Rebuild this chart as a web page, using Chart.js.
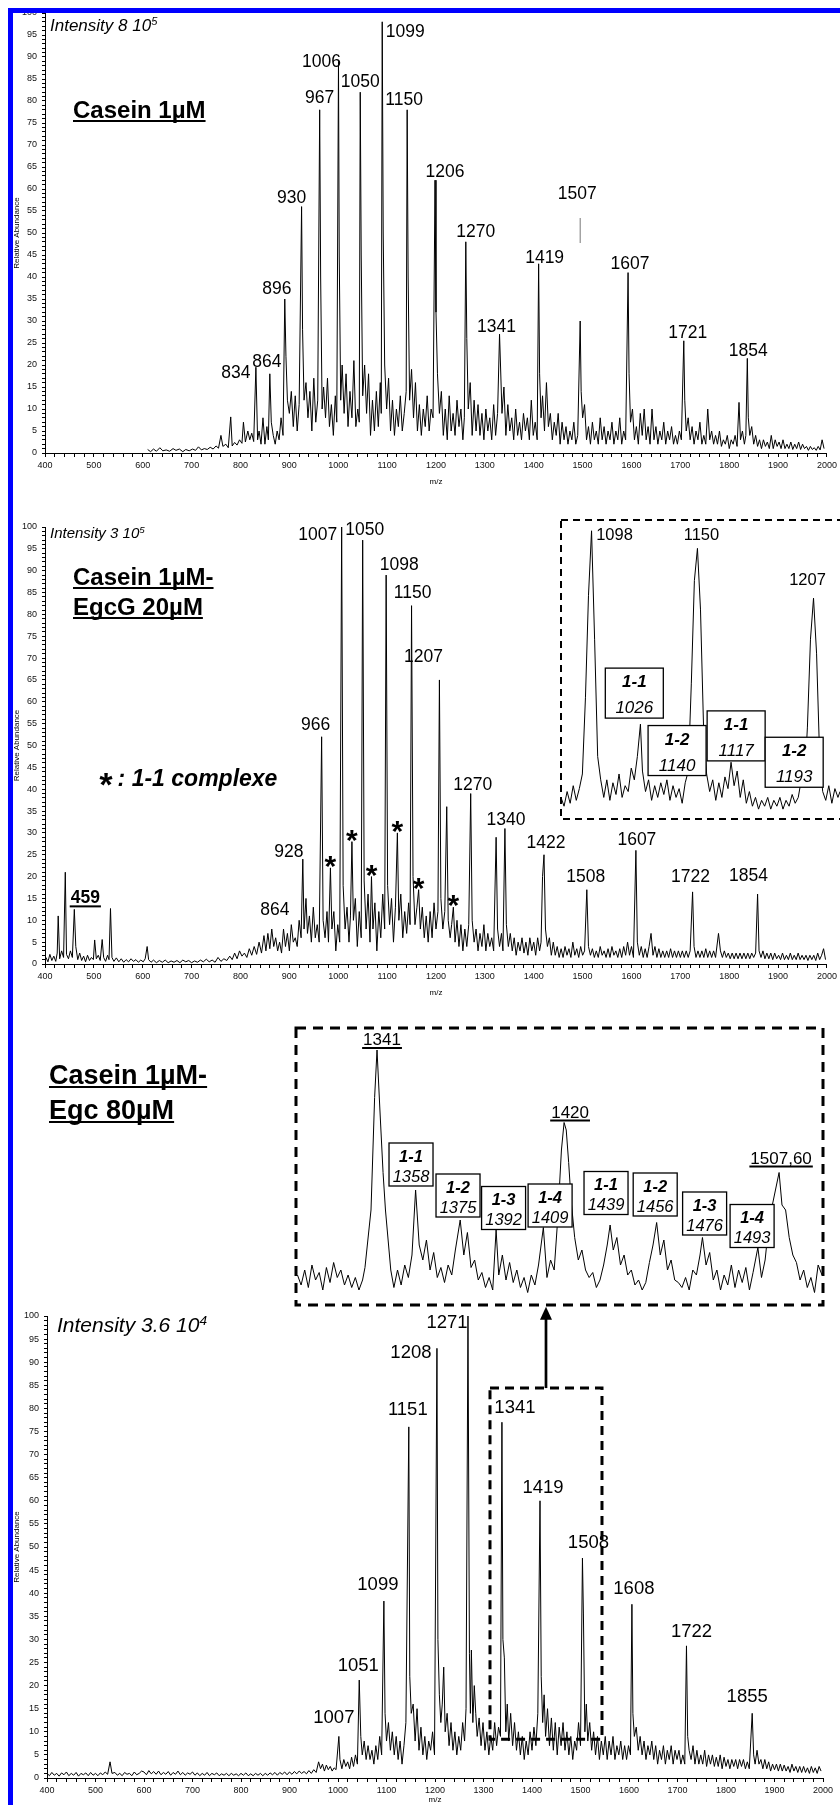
<!DOCTYPE html>
<html>
<head>
<meta charset="utf-8">
<script src="https://cdn.jsdelivr.net/npm/chart.js@4.4.1/dist/chart.umd.min.js"></script>
<style>
  body { margin: 0; background: #fff; }
  #page { position: relative; width: 840px; height: 1805px; overflow: hidden; font-family: "Liberation Sans", Arial, sans-serif; color: #000; }
  #page canvas { position: absolute; }
  .txt { position: absolute; white-space: nowrap; line-height: 1; }
  .title { font-weight: bold; text-decoration: underline; text-decoration-thickness: 2px; text-underline-offset: 2px; text-decoration-skip-ink: none; }
  .intensity { font-style: italic; }
  .sup { font-size: 0.65em; position: relative; top: -0.5em; }
  .star { font-size: 34px; line-height: 0; position: relative; top: 10px; }
  .blue { position: absolute; background: #0000ff; }
</style>
</head>
<body>
<div id="page">
  <canvas id="c1" width="840" height="487" style="left:0;top:0"></canvas>
  <canvas id="c2" width="840" height="511" style="left:0;top:487px"></canvas>
  <canvas id="c3" width="840" height="807" style="left:0;top:998px"></canvas>
  <canvas id="i2" width="282" height="305" style="left:558px;top:517px"></canvas>
  <canvas id="i3" width="535" height="285" style="left:292px;top:1024px"></canvas>

  <div class="txt intensity" style="left:50px;top:17px;font-size:17px">Intensity 8 10<span class="sup">5</span></div>
  <div class="txt title" style="left:73px;top:98px;font-size:24px">Casein 1µM</div>

  <div class="txt intensity" style="left:50px;top:525px;font-size:15px">Intensity 3 10<span class="sup">5</span></div>
  <div class="txt title" style="left:73px;top:565px;font-size:24px">Casein 1µM-</div>
  <div class="txt title" style="left:73px;top:595px;font-size:24px">EgcG 20µM</div>
  <div class="txt" style="left:98px;top:767px;font-size:23px;font-weight:bold;font-style:italic"><span class="star">*</span> : 1-1 complexe</div>

  <div class="txt title" style="left:49px;top:1062px;font-size:27px">Casein 1µM-</div>
  <div class="txt title" style="left:49px;top:1097px;font-size:27px">Egc 80µM</div>
  <div class="txt intensity" style="left:57px;top:1314px;font-size:21px">Intensity 3.6 10<span class="sup">4</span></div>

  <div class="blue" style="left:8px;top:8px;width:5px;height:1805px"></div>
  <div class="blue" style="left:8px;top:8px;width:840px;height:5px"></div>
</div>
<script>
// ---------- data: relative abundance (%) against m/z ----------
// Casein 1 uM
const peaksCasein = [[831.5,19.5],[860,18],[890.6,35],[925,56],[962,78],[1000.5,89],[1045,82],[1090,98],[1141,78],[1198,62],[1261,48],[1330,27],[1410,43],[1495,30],[1593,41],[1707,25.5],[1837,21.5]];
const noiseCasein = [[610,0.8],[616,0.3],[622,0.9],[628,0.4],[635,1.2],[641,0.5],[648,0.7],[655,0.4],[662,1.0],[668,0.6],[675,0.9],[682,0.3],[688,0.8],[695,0.5],[702,0.9],[708,0.6],[714,1.4],[720,0.7],[726,1.0],[732,0.8],[738,1.3],[744,0.9],[750,1.6],[755,1.1],[760,4.0],[764,1.5],[770,2.0],[775,1.2],[780,8.2],[783,1.6],[788,2.4],[793,1.8],[798,3.0],[803,2.2],[806,7.0],[810,2.5],[815,5.0],[819,3.0],[823,4.5],[827,2.6],
[835,3],[838,5],[842,2],[846,8],[850,2],[854,6],[857,3],[863,7],[867,4],[871,2],[875,5],[879,3],[883,8],[887,4],
[893,22],[896,12],[900,9],[904,14],[908,6],[912,13],[916,5],[920,11],
[927,28],[930,12],[934,16],[938,8],[942,14],[946,5],[950,17],[954,7],[958,12],
[964,40],[967,10],[970,15],[974,8],[978,17],[982,6],[986,11],[990,4],[994,13],[997,7],
[1002,45],[1005,12],[1008,20],[1012,9],[1016,18],[1020,6],[1024,14],[1028,8],[1032,21],[1036,6],[1040,10],[1043,7],
[1047,45],[1050,13],[1054,20],[1058,9],[1062,18],[1066,4],[1070,12],[1074,5],[1078,14],[1082,6],[1086,16],[1088,9],
[1092,50],[1095,20],[1099,10],[1103,17],[1107,5],[1111,12],[1115,4],[1119,10],[1123,6],[1127,13],[1131,5],[1135,9],[1139,14],
[1143,40],[1146,12],[1150,19],[1154,8],[1158,16],[1162,5],[1166,11],[1170,4],[1174,10],[1178,6],[1182,13],[1186,5],[1190,10],[1194,8],
[1200,32],[1203,18],[1207,9],[1211,14],[1215,4],[1219,10],[1223,3],[1227,13],[1231,5],[1235,9],[1239,4],[1243,12],[1247,6],[1251,10],[1255,3],[1258,8],
[1263,26],[1266,10],[1270,16],[1274,4],[1278,12],[1282,5],[1286,11],[1290,4],[1294,9],[1298,3],[1302,10],[1306,5],[1310,8],[1314,3],[1318,11],[1322,4],[1326,9],
[1332,20],[1335,9],[1339,15],[1343,4],[1347,11],[1351,5],[1355,8],[1359,3],[1363,10],[1367,4],[1371,7],[1375,3],[1379,9],[1383,5],[1387,8],[1391,3],[1395,12],[1399,4],[1403,7],[1407,3],
[1412,18],[1415,8],[1418,13],[1422,5],[1426,16],[1430,6],[1434,9],[1438,3],[1442,7],[1446,4],[1450,9],[1454,2],[1458,7],[1462,3],[1466,6],[1470,2],[1474,5],[1478,3],[1482,7],[1486,2],[1490,4],
[1497,14],[1500,8],[1504,11],[1508,3],[1512,6],[1516,2],[1520,7],[1524,3],[1528,5],[1532,2],[1536,8],[1540,3],[1544,6],[1548,2],[1552,5],[1556,3],[1560,7],[1564,2],[1568,5],[1572,3],[1576,8],[1580,2],[1584,5],[1588,3],
[1595,18],[1598,7],[1602,10],[1606,3],[1610,6],[1614,2],[1618,9],[1622,4],[1626,10],[1630,3],[1634,6],[1638,2],[1642,10],[1646,3],[1650,6],[1654,2],[1658,5],[1662,3],[1666,7],[1670,2],[1674,5],[1678,3],[1682,6],[1686,2],[1690,4],[1694,2],[1698,5],[1702,3],
[1709,12],[1712,5],[1716,8],[1720,3],[1724,6],[1728,2],[1732,5],[1736,3],[1740,7],[1744,2],[1748,4],[1752,2],[1756,10],[1760,3],[1764,5],[1768,2],[1772,4],[1776,2],[1780,5],[1784,1.5],[1788,3],[1792,2],[1796,4],[1800,1],[1804,3],[1808,2],[1812,4],[1816,1.5],[1820,11.5],[1823,3],[1827,5],[1831,2],[1834,4],
[1839,8],[1842,4],[1846,6],[1850,2],[1854,4],[1858,1.5],[1862,3],[1866,1],[1870,3],[1874,1.5],[1878,2.5],[1882,1],[1886,4],[1890,1],[1894,3],[1898,1.5],[1902,2.5],[1906,1],[1910,3],[1914,1],[1918,2],[1922,1],[1926,2.5],[1930,0.8],[1934,2],[1938,1],[1942,2.5],[1946,0.8],[1950,2],[1954,1],[1958,1.5],[1962,0.6],[1966,1.5],[1970,0.8],[1974,1.2],[1978,0.6],[1982,1.5],[1986,0.7],[1990,3],[1994,1]];
const tagsCasein = [[831.5,'834'],[860,'864'],[890.6,'896'],[925,'930'],[962,'967'],[1000.5,'1006'],[1045,'1050'],[1090,'1099'],[1141,'1150'],[1198,'1206'],[1261,'1270'],[1330,'1341'],[1410,'1419'],[1495,'1507'],[1593,'1607'],[1707,'1721'],[1837,'1854']];

// Casein 1 uM + EgcG 20 uM
const peaksEgcg = [[427,11],[441.5,21],[460,12.5],[501.6,5.5],[517,5.6],[534,12.7],[609,4],[864,8],[927.5,24],[934,15],[966,52],[984,22],[1007,100],[1028,28],[1050,97],[1068,20],[1098,89],[1121,30],[1150,82],[1164.5,17],[1207,65],[1222,36],[1235.5,13],[1271,39],[1323,29],[1341,31],[1418,20],[1421,25],[1508.6,17],[1609,26],[1725,16.5],[1778,7],[1858,16]];
const noiseEgcg = [[402,1.5],[406,0.5],[410,2.2],[414,0.8],[418,1.8],[422,0.6],[425,2.5],[430,1.2],[434,3],[438,1.5],[444,2.2],[448,1.2],[452,3],[456,1.5],[463,4],[467,1],[471,2.5],[475,0.8],[479,1.8],[483,0.5],[487,2],[491,0.8],[495,1.5],[499,1],[505,1.2],[509,2],[513,0.8],[520,1.5],[524,0.6],[528,2],[531,1],[537,1.5],[541,0.6],[546,1.4],[551,0.5],[556,1.2],[561,0.4],[566,1],[571,0.5],[576,1.2],[581,0.6],[586,1],[591,0.4],[596,0.9],[601,0.5],[605,1.2],[612,1],[617,0.4],[622,0.9],[628,0.3],[634,0.8],[640,0.4],[646,0.9],[652,0.3],[658,0.7],[664,0.4],[670,0.8],[676,0.3],[682,0.9],[688,0.5],[694,0.8],[700,0.3],[706,0.7],[712,0.4],[718,0.9],[724,0.5],[730,1.1],[736,0.5],[742,0.9],[748,0.4],[754,1.5],[760,0.6],[766,1.2],[772,0.8],[778,1.8],[783,1],[788,2.5],[793,1.2],[798,3],[803,1.8],[808,2.5],[813,1.5],[818,3.5],[823,2],[828,4],[833,2.2],[838,5],[843,2.5],[848,6.5],[852,3],[856,7],[860,3.5],[868,4],[872,6],[876,3],[880,5],[884,2.5],[888,8],[892,4],[896,7],[900,3],[904,9],[908,5],[912,6],[916,4],[920,10],[924,6],[930,8],[937,7],[941,11],[945,5],[949,13],[953,6],[957,9],[961,5],[969,10],[973,6],[977,12],[980,5],[987,8],[991,12],[995,3],[999,9],[1003,5],[1010,18],[1014,8],[1018,13],[1022,5],[1025,11],[1031,10],[1035,15],[1039,4],[1043,12],[1047,6],[1053,19],[1057,8],[1061,16],[1065,5],[1071,8],[1075,14],[1079,3],[1083,12],[1087,6],[1091,16],[1095,8],[1101,18],[1105,9],[1109,15],[1113,5],[1117,13],[1124,10],[1128,16],[1132,6],[1136,12],[1140,7],[1144,14],[1147,9],[1153,20],[1157,9],[1161,13],[1168,8],[1172,13],[1176,6],[1180,11],[1184,5],[1188,12],[1192,6],[1196,14],[1200,8],[1204,12],[1210,15],[1214,8],[1218,12],[1225,10],[1229,6],[1232,9],[1239,5],[1243,10],[1247,4],[1251,9],[1255,3],[1259,8],[1263,4],[1267,9],[1274,10],[1278,5],[1282,8],[1286,3],[1290,7],[1294,4],[1298,9],[1302,3],[1306,7],[1310,4],[1314,6],[1318,3],[1326,8],[1330,4],[1334,7],[1337,3],[1344,9],[1348,4],[1352,7],[1356,3],[1360,6],[1364,2],[1368,5],[1372,3],[1376,6],[1380,2.5],[1384,5],[1388,2],[1392,6],[1396,3],[1400,5],[1404,2],[1408,6],[1412,3],[1415,5],[1424,8],[1428,4],[1432,6],[1436,2],[1440,5],[1444,2],[1448,4],[1452,1.5],[1456,3.5],[1460,1.5],[1464,4],[1468,2],[1472,3.5],[1476,1.5],[1480,5],[1484,2],[1488,3.5],[1492,1.5],[1496,4],[1500,2],[1504,3],[1512,4],[1516,2],[1520,3.5],[1524,1.5],[1528,3],[1532,1.5],[1536,4],[1540,2],[1544,3],[1548,1.5],[1552,3.5],[1556,1.5],[1560,4],[1564,2],[1568,3],[1572,1.5],[1576,3.5],[1580,1.5],[1584,4],[1588,2],[1592,5],[1596,2],[1600,4],[1604,1.5],[1612,5],[1616,2],[1620,4],[1624,1.5],[1628,3.5],[1632,1.5],[1636,4],[1640,7],[1644,2],[1648,4],[1652,1.5],[1656,3.5],[1660,1.5],[1664,3],[1668,1.5],[1672,3],[1676,1.5],[1680,3.5],[1684,1.5],[1688,3],[1692,1.5],[1696,3],[1700,1.5],[1704,3],[1708,1.5],[1712,3],[1716,1.5],[1720,3],[1728,4],[1732,1.5],[1736,3],[1740,1.5],[1744,3],[1748,1.5],[1752,3.5],[1756,1.5],[1760,3],[1764,1.5],[1768,3],[1772,1.5],[1782,3],[1786,1.5],[1790,3],[1794,1.5],[1798,2.5],[1802,1.2],[1806,2.5],[1810,1.2],[1814,2.5],[1818,1.2],[1822,2.5],[1826,1.2],[1830,2.5],[1834,1.2],[1838,2.5],[1842,1.2],[1846,2.5],[1850,1.5],[1854,2.5],[1861,3],[1865,1.5],[1869,3],[1873,1.2],[1877,2.5],[1881,1.2],[1885,2.5],[1889,1],[1893,2.5],[1897,1.2],[1901,2],[1905,1],[1909,2.5],[1913,1],[1917,2],[1921,1],[1925,2.5],[1929,1],[1933,2],[1937,1],[1941,2.5],[1945,1],[1949,2],[1953,1],[1957,2],[1961,0.8],[1965,2],[1969,1],[1973,2],[1977,0.8],[1981,2.5],[1985,1],[1989,2],[1993,3.5],[1997,1]];
const tagsEgcg = [[460,'459'],[864,'864'],[927.5,'928'],[966,'966'],[1007,'1007'],[1050,'1050'],[1098,'1098'],[1150,'1150'],[1207,'1207'],[1271,'1270'],[1341,'1340'],[1421,'1422'],[1508.6,'1508'],[1609,'1607'],[1725,'1722'],[1858,'1854']];
const complexEgcg = [984,1028,1068,1121,1164.5,1235.5];   // peaks marked with *

// zoom of the EgcG spectrum, 1083-1220
const zoomEgcg = [[1083,6],[1084.5,3],[1086,8],[1087.5,4],[1089,10],[1090.5,5],[1092,9],[1093.5,14],[1095,40],[1096.5,75],[1098,97],[1099.5,60],[1101,20],[1102.5,12],[1104,6],[1105.5,12],[1107,5],[1108.5,11],[1110,7],[1111.5,14],[1113,6],[1114.5,10],[1116,8],[1117.5,16],[1119,12],[1120.5,20],[1122,31],[1123,15],[1124.5,8],[1126,12],[1127.5,5],[1129,10],[1130.5,6],[1132,11],[1133.5,7],[1135,12],[1136.5,5],[1138,10],[1139.5,6],[1141,9],[1142.5,4],[1144,11],[1145.5,15],[1147,45],[1148.5,80],[1150,91],[1151.5,70],[1153,30],[1154.5,14],[1156,8],[1157.5,12],[1159,5],[1160.5,11],[1162,6],[1163.5,13],[1165,9],[1166.5,18],[1168,10],[1169.5,15],[1171,6],[1172.5,12],[1174,4],[1175.5,8],[1177,3],[1178.5,6],[1180,2],[1181.5,5],[1183,3],[1184.5,6],[1186,2],[1187.5,5],[1189,3],[1190.5,6],[1192,2],[1193.5,5],[1195,3],[1196.5,7],[1198,4],[1199.5,6],[1201,12],[1202.5,10],[1204,30],[1205.5,60],[1207,74],[1208.5,55],[1210,20],[1211.5,8],[1213,5],[1214.5,10],[1216,4],[1217.5,9],[1219,6],[1220,8]];
const zoomEgcgTags = [[1098,'1098'],[1150,'1150'],[1207,'1207']];
const zoomEgcgBoxes = [['1-1','1026',1119,41.6],['1-2','1140',1140,22],['1-1','1117',1169,27],['1-2','1193',1197.5,18]];

// Casein 1 uM + Egc 80 uM
const peaksEgc = [[530,3.5],[1001.8,9],[1043.8,21.2],[1094.6,38.3],[1146,76],[1204,93],[1218,24],[1268,100],[1275,27.7],[1281,20],[1338,77],[1343,26],[1416.5,60],[1504,47.6],[1506,35.5],[1606,37.6],[1718.5,28.6],[1854,14]];
const noiseEgc = [[400,1],[405,0.5],[410,1.2],[415,0.6],[420,1],[425,0.4],[430,1.1],[435,0.7],[440,1.3],[445,0.5],[450,1],[455,0.6],[460,1.2],[465,0.4],[470,1],[475,0.7],[480,1.1],[485,0.5],[490,1.2],[495,0.6],[500,1],[505,0.5],[510,1.1],[515,0.7],[520,1.3],[525,0.8],[534,1],[540,1.2],[545,0.6],[550,1],[555,0.5],[560,1.2],[565,0.8],[570,1],[575,0.5],[580,1.3],[585,0.7],[590,1],[595,1.5],[600,1.3],[605,0.7],[610,1.6],[615,0.9],[620,1.4],[625,0.8],[630,1.5],[635,0.7],[640,1.2],[645,0.8],[650,1.4],[655,0.6],[660,1.2],[665,0.8],[670,1.5],[675,0.7],[680,1.2],[685,0.6],[690,1.1],[695,0.8],[700,1.3],[705,0.6],[710,1.1],[715,0.5],[720,1],[725,0.6],[730,1.2],[735,0.5],[740,1],[745,0.7],[750,1.1],[755,0.5],[760,0.9],[765,0.6],[770,1],[775,0.5],[780,1],[785,0.6],[790,0.9],[795,0.5],[800,1],[805,0.6],[810,1.1],[815,0.5],[820,0.9],[825,0.5],[830,1],[835,0.6],[840,1],[845,0.5],[850,1],[855,0.6],[860,1.1],[865,0.7],[870,1.2],[875,0.6],[880,1.2],[885,0.8],[890,1.3],[895,0.7],[900,1.3],[905,0.8],[910,1.4],[915,0.9],[920,1.5],[925,1],[930,1.4],[935,0.9],[940,1.6],[945,1],[950,1.8],[955,1.2],[960,3.5],[964,2],[968,3],[972,1.5],[976,2.8],[980,1.8],[984,2.5],[988,1.5],[992,2.2],[996,1.8],[1004,4],[1008,2],[1012,4],[1016,2.5],[1020,3.5],[1024,2],[1028,4.5],[1032,2.5],[1036,5],[1040,3],[1047,9],[1050,5],[1054,8],[1058,4],[1062,7],[1066,4],[1070,6],[1074,3],[1078,7],[1082,4],[1086,9],[1090,5],[1097,14],[1100,8],[1104,12],[1108,6],[1112,10],[1116,5],[1120,9],[1124,4],[1128,8],[1132,3],[1136,7],[1140,12],[1148,22],[1151,14],[1155,16],[1159,8],[1163,15],[1167,6],[1171,11],[1175,5],[1179,9],[1183,4],[1187,8],[1191,6],[1195,10],[1199,5],[1206,30],[1209,18],[1212,12],[1215,16],[1221,10],[1225,14],[1229,7],[1233,12],[1237,6],[1241,10],[1245,5],[1249,9],[1253,6],[1257,12],[1261,8],[1264,15],[1271,27],[1273,14],[1278,12],[1284,14],[1287,9],[1291,13],[1295,7],[1299,12],[1303,6],[1307,10],[1311,5],[1315,9],[1319,6],[1323,12],[1327,7],[1331,11],[1335,9],[1340,30],[1346,10],[1349,16],[1352,8],[1356,14],[1360,7],[1364,12],[1368,6],[1372,10],[1376,5],[1380,9],[1384,4],[1388,8],[1392,5],[1396,10],[1400,6],[1404,11],[1408,7],[1412,14],[1419,22],[1422,12],[1425,18],[1428,9],[1432,15],[1436,7],[1440,13],[1444,6],[1448,12],[1452,5],[1456,11],[1460,7],[1464,12],[1468,6],[1472,10],[1476,5],[1480,9],[1484,4],[1488,8],[1492,6],[1496,12],[1500,7],[1509,10],[1512,16],[1515,8],[1519,12],[1523,6],[1527,10],[1531,5],[1535,9],[1539,4],[1543,8],[1547,5],[1551,9],[1555,4],[1559,8],[1563,5],[1567,9],[1571,4],[1575,7],[1579,5],[1583,8],[1587,4],[1591,7],[1595,4],[1599,7],[1603,5],[1608,14],[1611,9],[1615,11],[1619,6],[1623,9],[1627,5],[1631,8],[1635,4],[1639,7],[1643,5],[1647,8],[1651,4],[1655,7],[1659,3],[1663,6],[1667,4],[1671,7],[1675,3],[1679,6],[1683,4],[1687,7],[1691,3],[1695,6],[1699,4],[1703,6],[1707,3],[1711,5],[1715,3],[1721,9],[1724,6],[1728,4],[1732,7],[1736,3],[1740,6],[1744,3],[1748,5],[1752,3],[1756,6],[1760,2.5],[1764,5],[1768,3],[1772,5],[1776,2.5],[1780,4.5],[1784,2.5],[1788,5],[1792,2],[1796,4.5],[1800,2.5],[1804,4],[1808,2],[1812,4],[1816,2.5],[1820,4],[1824,2],[1828,4],[1832,2.5],[1836,4],[1840,2],[1844,3.5],[1848,2],[1857,5],[1860,3],[1864,6],[1868,3],[1872,4],[1876,2],[1880,4],[1884,2],[1888,3.5],[1892,1.5],[1896,3],[1900,1.8],[1904,3],[1908,1.5],[1912,3],[1916,1.5],[1920,2.8],[1924,1.5],[1928,2.5],[1932,1.2],[1936,3],[1940,1.5],[1944,2.5],[1948,1.2],[1952,2.5],[1956,1.2],[1960,2.5],[1964,1.2],[1968,2.2],[1972,1],[1976,2.5],[1980,1.2],[1984,2.2],[1988,1],[1992,2.5],[1996,1.5]];
const tagsEgc = [[1001.8,'1007'],[1043.8,'1051'],[1094.6,'1099'],[1146,'1151'],[1204,'1208'],[1268,'1271'],[1338,'1341'],[1416.5,'1419'],[1504,'1508'],[1606,'1608'],[1718.5,'1722'],[1854,'1855']];

// zoom of the Egc spectrum, 1308-1526
const zoomEgc = [[1308,10],[1309.5,6],[1311,12],[1312.5,5],[1314,14],[1315.5,8],[1317,11],[1318.5,4],[1320,13],[1321.5,7],[1323,15],[1324.5,9],[1326,12],[1327.5,6],[1329,10],[1330.5,5],[1332,9],[1333.5,4],[1335,8],[1336,13],[1338.5,36],[1340,81],[1341,100],[1342.2,76],[1343.5,51],[1344.5,36],[1346.7,12],[1348,5],[1349.5,12],[1351,6],[1352.5,14],[1354,9],[1355.5,18],[1357,44],[1358.5,22],[1360,16],[1361.5,24],[1363,12],[1364.5,19],[1366,9],[1367.5,13],[1369,7],[1370.5,14],[1372,10],[1373.5,20],[1375.5,32],[1377,18],[1378.5,27],[1380,13],[1381.5,16],[1383,8],[1384.5,11],[1386,5],[1387.5,9],[1389,4],[1390.4,28],[1391.5,10],[1393,18],[1394.5,8],[1396,15],[1397.5,7],[1399,12],[1400.5,5],[1402,9],[1403.5,3],[1405,10],[1406.5,6],[1408,14],[1410,29],[1411.5,9],[1413,16],[1414.5,12],[1416,33],[1417.5,60],[1418.6,71],[1419.5,68],[1420.5,55],[1421.5,40],[1423,25],[1424.5,16],[1426,20],[1427.5,12],[1429,9],[1430.5,11],[1432,5],[1433.5,8],[1435,14],[1436.5,22],[1437.7,30],[1439,20],[1440.5,25],[1442,14],[1443.5,18],[1445,10],[1446.5,12],[1448,6],[1449.5,8],[1451,4],[1452.5,7],[1454,15],[1455.5,22],[1457,31],[1458.5,18],[1460,24],[1461.5,12],[1463,16],[1464.5,8],[1466,7],[1467.5,5],[1469,9],[1470.5,4],[1472,12],[1473.5,10],[1475,18],[1476,25],[1477.5,14],[1479,19],[1480.5,8],[1482,12],[1483.5,4],[1485,10],[1486.5,6],[1488,14],[1489.5,5],[1491,12],[1492.5,7],[1494,13],[1495.5,4],[1497,11],[1499,21],[1500.5,9],[1502,16],[1503.5,30],[1505,38],[1507.8,51],[1509,38],[1510.5,36],[1512,25],[1513.5,18],[1515,15],[1516.5,8],[1518,12],[1519.5,5],[1521,9],[1522.5,3],[1524,14],[1525.6,10]];
const zoomEgcTags = [[1341,'1341'],[1418.6,'1420'],[1507.8,'1507,60']];
const zoomEgcBoxes = [['1-1','1358',1355.1,54.2],['1-2','1375',1374.6,41.8],['1-3','1392',1393.5,36.8],['1-4','1409',1412.8,37.8],['1-1','1439',1436,42.8],['1-2','1456',1456.4,42.2],['1-3','1476',1476.9,34.6],['1-4','1493',1496.6,29.6]];

// axes
const xLabels = [400,500,600,700,800,900,1000,1100,1200,1300,1400,1500,1600,1700,1800,1900,2000];
const yLabels = [0,5,10,15,20,25,30,35,40,45,50,55,60,65,70,75,80,85,90,95,100];
const xMinorStep = 20, yMinorStep = 1;

// ---------- layout (px) ----------
// label offsets: [dx, gap above peak top]
const shiftCasein = {'834':[-20,-11],'864':[-3,7],'896':[-8,5],'930':[-10,4],'967':[0,7],'1006':[-17,-6],'1050':[0,5],'1099':[23,-15],'1150':[-3,5],'1206':[10,3],'1270':[10,5],'1341':[-3,2],'1419':[6,1],'1507':[-3,122],'1607':[2,4],'1721':[4,3],'1854':[1,2]};
const shiftEgcg = {'459':[11,6],'864':[3,14],'928':[-14,2],'966':[-6,7],'1007':[-24,-13],'1050':[2,5],'1098':[13,5],'1150':[1,8],'1207':[-16,18],'1270':[2,4],'1340':[1,4],'1422':[2,7],'1508':[-1,8],'1607':[1,5],'1722':[-2,10],'1854':[-9,13]};
const shiftEgc = {'1007':[-5,13],'1051':[-1,9],'1099':[-6,11],'1151':[-1,12],'1208':[-26,-10],'1271':[-21,-12],'1341':[13,9],'1419':[3,8],'1508':[6,10],'1608':[2,10],'1722':[5,9],'1855':[-5,11]};
const FONT = '"Liberation Sans", Arial, sans-serif';
Chart.defaults.font.family = FONT;

const xTickValues = [];
for (let v = xLabels[0]; v <= xLabels[xLabels.length - 1]; v += xMinorStep) xTickValues.push(v);
const yTickValues = [];
for (let v = yLabels[0]; v <= yLabels[yLabels.length - 1]; v += yMinorStep) yTickValues.push(v);

const toXY = pairs => pairs.map(([x, y]) => ({x, y}));
const spectrum = (peaks, noise) => toXY(peaks.concat(noise).sort((a, b) => a[0] - b[0]));

// draws peak tags, stars, complex boxes, frames
const decor = {
  id: 'decor',
  afterDatasetsDraw(chart, args, o) {
    const ctx = chart.ctx;
    const X = v => chart.scales.x.getPixelForValue(v);
    const Y = v => chart.scales.y.getPixelForValue(v);
    const top = new Map(o.series || []);
    ctx.save();
    ctx.fillStyle = '#000';
    ctx.strokeStyle = '#000';
    if (o.frame) {
      const [x0, y0, x1, y1, w, dash] = o.frame;
      ctx.lineWidth = w; ctx.setLineDash(dash);
      ctx.strokeRect(x0, y0, x1 - x0, y1 - y0);
      ctx.setLineDash([]);
    }
    ctx.textAlign = 'center';
    ctx.textBaseline = 'alphabetic';
    (o.tags || []).forEach(([mz, text]) => {
      const [dx, gap] = (o.shift && o.shift[text]) || [0, 4];
      const cx = X(mz) + dx, by = Y(top.get(mz)) - gap;
      const bold = (o.bold || []).includes(text);
      ctx.font = (bold ? 'bold ' : '') + o.font;
      ctx.fillText(text, cx, by);
      if (o.underline === true || (o.underline || []).includes?.(text)) {
        const w = ctx.measureText(text).width;
        ctx.fillRect(cx - w / 2 - 1, by + 2, w + 2, 2);
      }
      if (o.leader && o.leader[text]) {
        const [a, b] = o.leader[text];
        ctx.lineWidth = 1; ctx.strokeStyle = '#777';
        ctx.beginPath(); ctx.moveTo(X(mz), by + a); ctx.lineTo(X(mz), by + b); ctx.stroke();
        ctx.strokeStyle = '#000';
      }
    });
    (o.stars || []).forEach(mz => {
      ctx.font = 'bold 30px ' + FONT;
      ctx.fillText('*', X(mz), Y(top.get(mz)) - 9 + 17);
    });
    (o.boxes || []).forEach(([l1, l2, mz, v]) => {
      const [w, h, b1, b2] = o.boxSize;
      const cx = X(mz), bx = cx - w / 2, byTop = Y(v) - h / 2;
      ctx.fillStyle = '#fff';
      ctx.fillRect(bx, byTop, w, h);
      ctx.lineWidth = 1.3;
      ctx.strokeRect(bx, byTop, w, h);
      ctx.fillStyle = '#000';
      ctx.font = 'italic bold ' + o.boxFont;
      ctx.fillText(l1, cx, byTop + b1);
      ctx.font = 'italic ' + o.boxFont;
      ctx.fillText(l2, cx, byTop + b2);
    });
    if (o.zoomBox) {
      const z = o.zoomBox;
      const x0 = X(z.x[0]), x1 = X(z.x[1]), y0 = Y(z.y[1]), y1 = Y(z.y[0]);
      ctx.lineWidth = 3; ctx.setLineDash([9, 6]);
      ctx.strokeRect(x0, y0, x1 - x0, y1 - y0);
      ctx.setLineDash([]);
      const cx = (x0 + x1) / 2, tip = Y(z.arrowTo);
      ctx.lineWidth = 2.7;
      ctx.beginPath(); ctx.moveTo(cx, y0); ctx.lineTo(cx, tip + 12); ctx.stroke();
      ctx.beginPath(); ctx.moveTo(cx, tip); ctx.lineTo(cx - 6, tip + 13); ctx.lineTo(cx + 6, tip + 13); ctx.closePath(); ctx.fill();
    }
    ctx.restore();
  }
};

function spectrumChart(id, points, pad, yWidth, xHeight, decorOpts) {
  return new Chart(document.getElementById(id), {
    type: 'line',
    data: { datasets: [{ data: points, borderColor: '#000', borderWidth: 1, pointRadius: 0, tension: 0 }] },
    options: {
      responsive: false, animation: false, events: [],
      layout: { padding: pad },
      scales: {
        x: {
          type: 'linear', min: 400, max: 2000,
          afterBuildTicks: axis => { axis.ticks = xTickValues.map(v => ({ value: v })); },
          afterFit: axis => { axis.height = xHeight; },
          ticks: { autoSkip: false, maxRotation: 0, padding: 3, color: '#111', font: { size: 9 },
                   callback: v => xLabels.includes(v) ? String(v) : '' },
          grid: { drawOnChartArea: false, tickLength: 4, color: '#000' },
          border: { color: '#000', width: 1 },
          title: { display: true, text: 'm/z', font: { size: 8 }, padding: 0, color: '#000' }
        },
        y: {
          min: 0, max: 100,
          afterBuildTicks: axis => { axis.ticks = yTickValues.map(v => ({ value: v })); },
          afterFit: axis => { axis.width = yWidth; },
          ticks: { autoSkip: false, padding: 5, color: '#111', font: { size: 9 },
                   callback: v => yLabels.includes(v) ? String(v) : '' },
          grid: { drawOnChartArea: false, tickLength: 3, color: '#000' },
          border: { color: '#000', width: 1 },
          title: { display: true, text: 'Relative Abundance', font: { size: 8 }, padding: { top: 12, bottom: 0 }, color: '#000' }
        }
      },
      plugins: { legend: { display: false }, tooltip: { enabled: false }, decor: decorOpts }
    },
    plugins: [decor]
  });
}

function zoomChart(id, points, range, pad, decorOpts) {
  return new Chart(document.getElementById(id), {
    type: 'line',
    data: { datasets: [{ data: points, borderColor: '#000', borderWidth: 1, pointRadius: 0, tension: 0 }] },
    options: {
      responsive: false, animation: false, events: [],
      layout: { padding: pad },
      scales: {
        x: { type: 'linear', display: false, min: range[0], max: range[1] },
        y: { display: false, min: 0, max: 100 }
      },
      plugins: { legend: { display: false }, tooltip: { enabled: false }, decor: decorOpts }
    },
    plugins: [decor]
  });
}

spectrumChart('c1', spectrum(peaksCasein, noiseCasein), { top: 13, right: 9, left: 0, bottom: 0 }, 45, 34, {
  series: peaksCasein, tags: tagsCasein, shift: shiftCasein, font: '17.5px ' + FONT,
  leader: { '1507': [19, 44] }
});

spectrumChart('c2', spectrum(peaksEgcg, noiseEgcg), { top: 40, right: 10, left: 0, bottom: 0 }, 45, 34, {
  series: peaksEgcg, tags: tagsEgcg, shift: shiftEgcg, font: '17.5px ' + FONT,
  bold: ['459'], underline: ['459'], stars: complexEgcg
});

spectrumChart('c3', spectrum(peaksEgc, noiseEgc), { top: 318, right: 17, left: 0, bottom: 0 }, 47, 27, {
  series: peaksEgc, tags: tagsEgc, shift: shiftEgc, font: '18.5px ' + FONT,
  zoomBox: { x: [1313.4, 1544.3], y: [8.4, 84.4], arrowTo: 102 }
});

zoomChart('i2', toXY(zoomEgcg), [1083, 1220], { top: 5, right: 0, left: 3, bottom: 7 }, {
  series: zoomEgcg, tags: zoomEgcgTags, font: '16.5px ' + FONT,
  shift: { '1098': [23, -9], '1150': [4, 8], '1207': [-6, 13] },
  boxes: zoomEgcgBoxes, boxSize: [58, 50, 19, 45], boxFont: '17px ' + FONT,
  frame: [3, 3, 290, 302, 2, [7, 5]]
});

zoomChart('i3', toXY(zoomEgc), [1307.8, 1525.6], { top: 26, right: 5, left: 5, bottom: 9 }, {
  series: zoomEgc, tags: zoomEgcTags, font: '17px ' + FONT, underline: true,
  shift: { '1341': [5, 5], '1420': [6, 5], '1507,60': [2, 9] },
  boxes: zoomEgcBoxes, boxSize: [44, 43, 18.5, 38.5], boxFont: '16.5px ' + FONT,
  frame: [4, 4, 531, 281, 3, [10, 7]]
});
</script>
</body>
</html>
